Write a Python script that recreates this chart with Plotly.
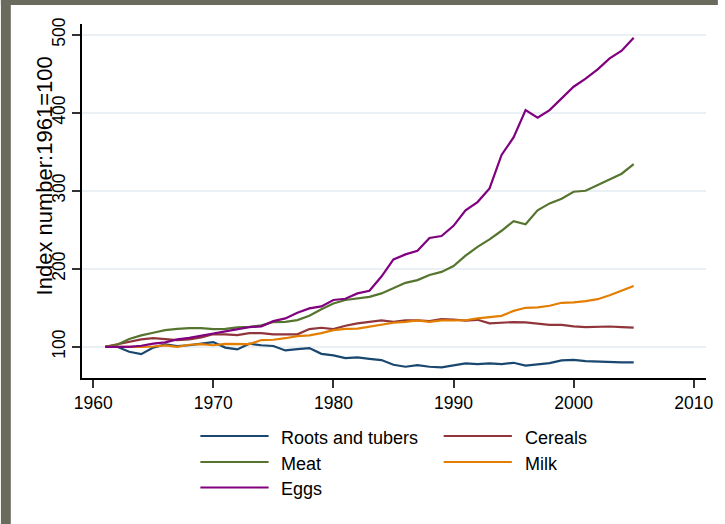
import plotly.graph_objects as go

years = list(range(1961, 2006))

roots = [100, 100, 93.6, 90.6, 99, 103, 101, 102, 104, 106,
         99, 96.6, 104, 102, 101, 95.3, 97, 98.3, 91, 89,
         85.5, 86.4, 84.6, 83, 77, 74.4, 76.5, 74.4, 73.6, 76.5,
         78.7, 77.8, 78.7, 77.8, 79.5, 76, 77.4, 79, 82.5, 83.3,
         81.7, 81.2, 80, 80, 80]
cereals = [100, 103, 105.6, 109.5, 111, 110, 108.6, 109.5, 112, 116,
           116, 115, 117.5, 117.5, 116, 116, 116, 122.7, 124.4, 122.7,
           127, 130, 132, 133.8, 132, 133.8, 133.8, 133, 135.5, 135,
           133.5, 134.6, 130, 131.3, 131.7, 131.3, 129.6, 128, 128, 126.1,
           125.3, 126.1, 126, 125.3, 124.5]
meat = [100, 102.6, 110, 114.6, 118, 121.4, 123, 124, 124, 122.7,
        123, 124.8, 125.6, 127.4, 131.7, 132, 134.2, 139.8, 148, 155.6,
        160, 161.6, 164, 168.4, 175.6, 182, 185.5, 192, 196, 203.5,
        216.7, 228, 237.7, 248.7, 261, 257, 275, 283.8, 289.8, 298.7,
        300, 307, 315, 321.8, 334]
milk = [100, 100, 99.2, 100, 100.4, 101.7, 100, 102.6, 103.4, 102,
        103.8, 103.4, 103.4, 108.6, 109, 111, 113.7, 114.6, 117.5, 121.4,
        123, 123.2, 125.6, 127.8, 130.8, 132, 133.8, 132, 133.8, 133.8,
        134, 136.4, 137.7, 139.7, 146, 150, 150.6, 152.6, 156.4, 157,
        158.6, 161, 166, 171.8, 178]
eggs = [100, 100, 100, 101.3, 104, 105.6, 109.5, 111.5, 114.6, 117,
        119.7, 122.7, 125.3, 126.2, 132.9, 136.4, 143.6, 149.2, 151.8, 160,
        161.6, 168.4, 171.8, 190, 212, 218.4, 223, 239.4, 242, 255,
        275, 285.5, 303, 345.8, 368.4, 403.4, 393.6, 403.4, 418, 433.3,
        443.6, 455.6, 469.7, 479.5, 496]

series_names = ["Roots and tubers", "Cereals", "Meat", "Milk", "Eggs"]
series_values = [roots, cereals, meat, milk, eggs]
series_colors = ["#1a476f", "#90353b", "#55752f", "#e37e00", "#800080"]

x_ticks = [1960, 1970, 1980, 1990, 2000, 2010]
y_ticks = [100, 200, 300, 400, 500]
y_title = "Index number:1961=100"

W, H = 725, 524
L, R, T, B = 82, 12, 24, 146
PW, PH = W - L - R, H - T - B


def px(x):
    return (x - L) / PW


def py(y):
    return (H - B - y) / PH


fig = go.Figure()
for name, vals, col in zip(series_names, series_values, series_colors):
    fig.add_trace(go.Scatter(x=years, y=vals, mode="lines", name=name,
                             line=dict(color=col, width=2.2), showlegend=False))

font = "Liberation Sans, Arial, sans-serif"
shapes = []
annotations = []

# gray frame (left and top)
frame = "#6a6b5d"
shapes.append(dict(type="rect", xref="paper", yref="paper", x0=px(0), x1=px(10),
                   y0=py(H), y1=py(0), fillcolor=frame, line_width=0, layer="below"))
shapes.append(dict(type="rect", xref="paper", yref="paper", x0=px(0), x1=px(W),
                   y0=py(5), y1=py(0), fillcolor=frame, line_width=0, layer="below"))

# custom legend
legend_pos = [(201.7, 270.7, 281.7, 436), (447.7, 516.7, 527.5, 436),
              (201.7, 270.7, 281.7, 462), (447.7, 516.7, 527.5, 462),
              (201.7, 270.7, 281.7, 487.5)]
for (x0, x1, xt, yy), name, col in zip(legend_pos, series_names, series_colors):
    shapes.append(dict(type="line", xref="paper", yref="paper", x0=px(x0), x1=px(x1),
                       y0=py(yy), y1=py(yy), line=dict(color=col, width=2)))
    annotations.append(dict(xref="paper", yref="paper", x=px(xt), y=py(yy + 1.5),
                            text=name, showarrow=False, xanchor="left", yanchor="middle",
                            font=dict(size=18, color="#000000", family=font)))

annotations.append(dict(xref="paper", yref="paper", x=px(44), y=py(176), text=y_title,
                        textangle=-90, showarrow=False, xanchor="center", yanchor="middle",
                        font=dict(size=22, color="#000000", family=font)))

fig.update_layout(
    width=W, height=H,
    margin=dict(l=L, r=R, t=T, b=B, pad=0),
    paper_bgcolor="white", plot_bgcolor="white",
    font=dict(family=font, color="#000000"),
    shapes=shapes, annotations=annotations,
    showlegend=False,
    xaxis=dict(range=[1959.07, 2011.02], tickmode="array", tickvals=x_ticks,
               ticktext=[str(t) for t in x_ticks],
               showgrid=False, zeroline=False, showline=True, linecolor="#000000",
               linewidth=1.5, ticks="outside", ticklen=8, tickwidth=1.5,
               tickcolor="#333333", tickfont=dict(size=17.5, color="#000000")),
    yaxis=dict(range=[60.0, 513.7], tickmode="array", tickvals=y_ticks,
               ticktext=[str(t) for t in y_ticks], tickangle=-90,
               showgrid=True, gridcolor="#eaf0f3", gridwidth=1.5,
               zeroline=False, showline=True, linecolor="#000000",
               linewidth=1.5, ticks="outside", ticklen=8, tickwidth=1.5,
               tickcolor="#333333", tickfont=dict(size=17.5, color="#000000")),
)

fig.write_html("out.html", config={"displayModeBar": False},
               post_script="document.body.style.margin='0';")
